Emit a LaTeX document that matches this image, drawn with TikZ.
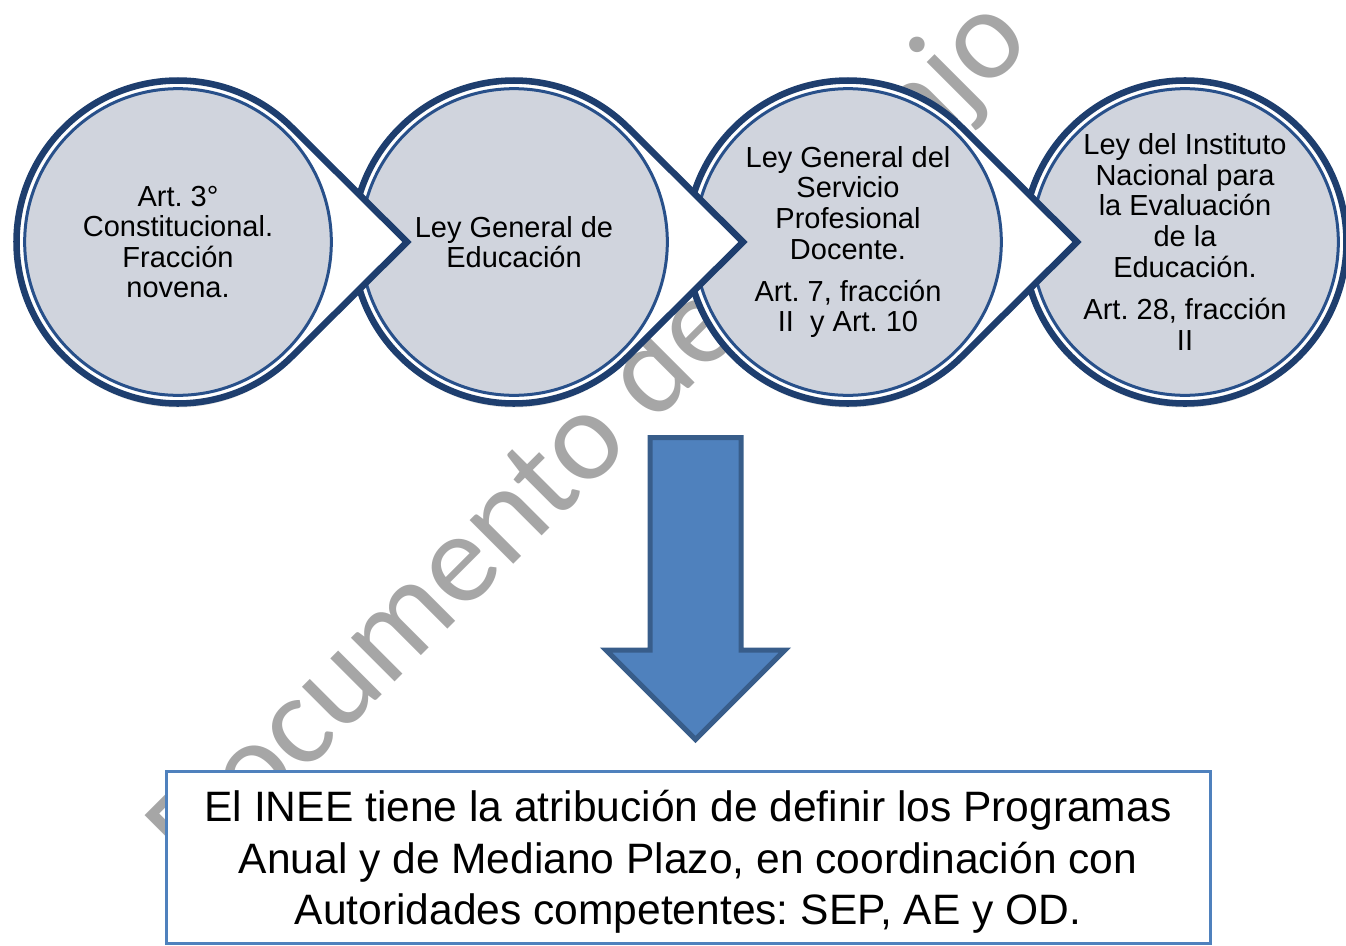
\documentclass[tikz,border=0pt]{standalone}
\usepackage{fontspec}
\setmainfont{Liberation Sans}
\newfontfamily\markfont{Carlito}
\usetikzlibrary{calc,shadows}

\definecolor{navyline}{RGB}{30,62,110}
\definecolor{ringline}{RGB}{40,80,138}
\definecolor{discfill}{RGB}{208,212,221}
\definecolor{arrowfill}{RGB}{79,129,189}
\definecolor{arrowline}{RGB}{56,93,138}
\definecolor{boxline}{RGB}{79,129,189}
\definecolor{markgrey}{RGB}{166,166,166}

% outer drop outline round a stage, pointing right
\newcommand{\stagedrop}[1]{\draw[drop] ($(#1)+(45.2:161.5)$) arc[start angle=45.2,end angle=314.8,radius=161.5] -- ($(#1)+(229,0)$) -- cycle;}

\begin{document}
\frenchspacing
\begin{tikzpicture}[x=0.75pt,y=-0.75pt]
\tikzset{stage/.style = {circle,draw=ringline,fill=discfill,line width=2.25pt,minimum size=230pt,inner sep=0pt,align=center,font=\fontsize{21.75}{22.9}\selectfont}}
\tikzset{drop/.style = {draw=navyline,fill=white,line width=4.9pt,line join=miter,drop shadow={opacity=0.22,shadow xshift=0pt,shadow yshift=-3pt}}}
\tikzset{infobox/.style = {draw=boxline,fill=white,line width=2.25pt,minimum width=783pt,minimum height=129pt,inner sep=0pt}}
\tikzset{infotext/.style = {align=center,inner sep=0pt,font=\fontsize{31.9}{38.6}\selectfont}}
\tikzset{watermark/.style = {text=markgrey,rotate=45,font=\markfont\fontsize{97}{97}\selectfont}}
\useasboundingbox (0,0) rectangle (1346,946);
% watermark
\node[watermark] (mark) at (592,438) {Documento de trabajo};
% stages
\coordinate (p4) at (1185,242);
\coordinate (p3) at (848,242);
\coordinate (p2) at (514,242);
\coordinate (p1) at (178,242);
\draw[drop] (p4) circle[radius=161.5];
\node[stage] (ley4) at (p4) {Ley del Instituto\\Nacional para\\la Evaluación\\de la\\Educación.\\[9pt]Art. 28, fracción\\II};
\stagedrop{p3}
\node[stage] (ley3) at (p3) {Ley General del\\Servicio\\Profesional\\Docente.\\[8.6pt]Art. 7, fracción\\II\ \ y Art. 10};
\stagedrop{p2}
\node[stage] (ley2) at (p2) {Ley General de\\Educación};
\stagedrop{p1}
\node[stage] (art3) at (p1) {Art. 3°\\Constitucional.\\Fracción\\novena.};
% down arrow
\coordinate (stem) at (695.5,437.5);
\draw[draw=arrowline,fill=arrowfill,line width=3.75pt,line join=miter]
  (stem) ++(-45.5,0) -- ++(0,212.5) -- ++(-44,0) -- ++(89.5,89.5) -- ++(89.5,-89.5) -- ++(-44,0) -- ++(0,-212.5) -- cycle;
% result
\node[infobox] (inee) at (688,857) {};
\node[infotext] (ineetext) at (688,862) {El INEE tiene la atribución de definir los Programas\\Anual y de Mediano Plazo, en coordinación con\\Autoridades competentes: SEP, AE y OD.};
\end{tikzpicture}
\end{document}
